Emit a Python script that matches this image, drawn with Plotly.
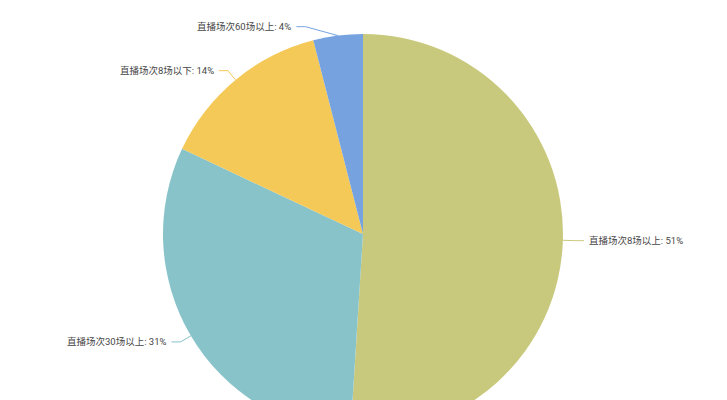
import math
import plotly.graph_objects as go

labels = ["直播场次8场以上", "直播场次30场以上", "直播场次8场以下", "直播场次60场以上"]
values = [51, 31, 14, 4]
colors = ["#c9c97d", "#88c3ca", "#f5c957", "#76a3e0"]

# layout (pixels)
W, H = 727, 470
CX, CY, R = 363, 234, 200
ml, mt = CX - R, CY - R
mr = W - (CX + R)
mb = H - (CY + R)

fig = go.Figure(go.Pie(
    labels=labels, values=values, sort=False, direction="clockwise", rotation=0,
    marker=dict(colors=colors, line=dict(width=0)),
    textinfo="none", hoverinfo="label+percent", showlegend=False,
    domain=dict(x=[0, 1], y=[0, 1]),
))

def to_paper(px, py):
    return (px - ml) / (2 * R), ((CY + R) - py) / (2 * R)

# label line styling (pixels)
radial_len = 12
horiz_len = 9
gap = 4
elbow_shift = [(0, 0), (0, 0), (0, 0), (-31, 3)]

total = sum(values)
cum = 0
shapes, annotations = [], []
for i, (lab, v) in enumerate(zip(labels, values)):
    mid = (cum + v / 2) / total * 2 * math.pi
    cum += v
    sx, sy = math.sin(mid), -math.cos(mid)
    p0 = (CX + R * sx, CY + R * sy)
    e = (CX + (R + radial_len) * sx + elbow_shift[i][0], CY + (R + radial_len) * sy + elbow_shift[i][1])
    side = 1 if sx >= 0 else -1
    p2 = (e[0] + side * horiz_len, e[1])
    a, b, c = to_paper(*p0), to_paper(*e), to_paper(*p2)
    shapes.append(dict(type="path", xref="paper", yref="paper",
                       path=f"M {a[0]} {a[1]} L {b[0]} {b[1]} L {c[0]} {c[1]}",
                       line=dict(color=colors[i], width=1)))
    tx, ty = to_paper(p2[0] + side * gap, p2[1])
    pct = round(v / total * 100)
    annotations.append(dict(x=tx, y=ty, xref="paper", yref="paper", showarrow=False,
                            text=f"{lab}: {pct}%", xanchor="left" if side > 0 else "right",
                            yanchor="middle", borderpad=0,
                            font=dict(family="Roboto, Noto Sans CJK SC, sans-serif", size=9.5, color="#464646")))

fig.update_layout(
    width=W, height=H, margin=dict(l=ml, r=mr, t=mt, b=mb, autoexpand=False),
    paper_bgcolor="white", plot_bgcolor="white",
    shapes=shapes, annotations=annotations,
)

post = ("document.body.style.margin='0';document.body.style.overflow='hidden';"
        "var d=document.getElementById('{plot_id}');d.parentElement.style.height='400px';"
        "d.parentElement.style.overflow='hidden';")
fig.write_html("out.html", config={"displayModeBar": False}, post_script=post)
